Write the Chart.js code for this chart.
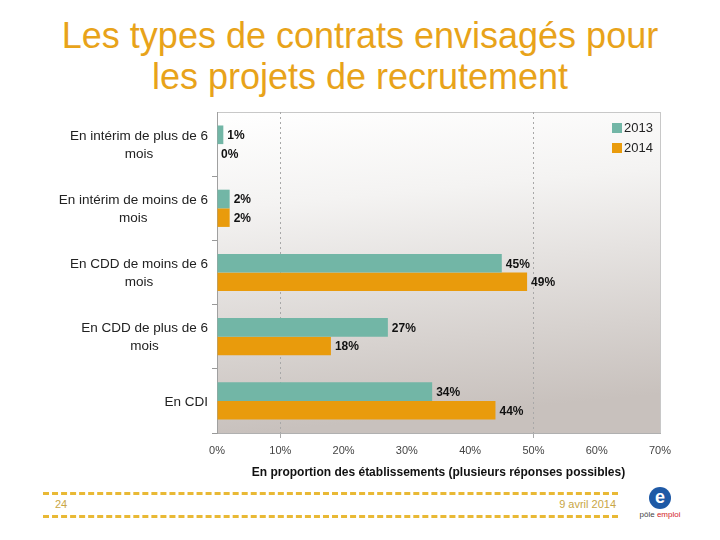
<!DOCTYPE html>
<html>
<head>
<meta charset="utf-8">
<script src="https://cdn.jsdelivr.net/npm/chart.js@4"></script>
<style>
    body { margin: 0; width: 720px; height: 540px; background: #fff; position: relative; overflow: hidden; font-family: "Liberation Sans", Arial, sans-serif; }
    #title { position: absolute; left: 0; top: 15px; width: 720px; text-align: center; color: #e8a31a; font-size: 36px; line-height: 41px; }
    #box { position: absolute; left: 0; top: 100px; width: 720px; height: 385px; }
    .dash { position: absolute; left: 43px; width: 575px; height: 0; border-top: 3px dashed #e9b935; }
    .foot { position: absolute; top: 498px; font-size: 11px; color: #c9a645; }
    #logo { position: absolute; left: 630px; top: 487px; width: 60px; text-align: center; white-space: nowrap; }
    #logo .e { width: 22px; height: 22px; border-radius: 11px; background: #1f5aa6; color: #fff; font: bold 18px/20px "Liberation Sans", Arial; margin: 0 auto; }
    #logo .t { font-size: 8px; color: #444; margin-top: 1px; }
</style>
</head>
<body>
<div id="title">Les types de contrats envisagés pour<br>les projets de recrutement</div>
<div id="box"><canvas id="contratsChart"></canvas></div>
<div class="dash" style="top:492px"></div>
<div class="dash" style="top:515px"></div>
<div class="foot" style="left:55px">24</div>
<div class="foot" style="left:520px;width:96px;text-align:right">9 avril 2014</div>
<div id="logo"><div class="e">e</div><div class="t">pôle <span style="color:#d2232a">emploi</span></div></div>

<script>
    // Data
    var categories = [
        ["En intérim de plus de 6", "mois"],
        ["En intérim de moins de 6", "mois"],
        ["En CDD de moins de 6", "mois"],
        ["En CDD de plus de 6", "mois"],
        ["En CDI"]
    ];
    var values2013 = [1, 2, 45, 27, 34];
    var values2014 = [0, 2, 49, 18, 44];
    var seriesNames = ["2013", "2014"];
    var xTicks = [0, 10, 20, 30, 40, 50, 60, 70];

    var teal = "#72b6a6";
    var orange = "#e99b0c";
    var fontFamily = "'Liberation Sans', Arial, sans-serif";

    // Plot background with gradient and frame
    var plotBackground = {
        id: "plotBackground",
        beforeDraw: function (chart) {
            var a = chart.chartArea, ctx = chart.ctx;
            var g = ctx.createLinearGradient(a.left, a.top, a.left + 30, a.bottom);
            g.addColorStop(0, "#ffffff");
            g.addColorStop(0.3, "#f4f3f2");
            g.addColorStop(1, "#c8c1bd");
            ctx.save();
            ctx.fillStyle = g;
            ctx.fillRect(a.left, a.top, a.right - a.left, a.bottom - a.top);
            ctx.strokeStyle = "#c8c8c8";
            ctx.lineWidth = 1;
            ctx.strokeRect(a.left + 0.5, a.top + 0.5, a.right - a.left, a.bottom - a.top);
            ctx.restore();
        }
    };

    // Category labels: first line right-aligned, following lines centred under it
    var categoryLabels = {
        id: "categoryLabels",
        afterDraw: function (chart) {
            var scale = chart.scales.y, ctx = chart.ctx;
            var lineH = 18;
            ctx.save();
            ctx.font = "13.5px " + fontFamily;
            ctx.fillStyle = "#222";
            ctx.textAlign = "center";
            ctx.textBaseline = "middle";
            chart.data.labels.forEach(function (lines, i) {
                var yc = scale.getPixelForTick(i) + 1;
                var w = ctx.measureText(lines[0]).width;
                var cx = scale.right - 9 - w / 2;
                var y0 = yc - (lines.length - 1) * lineH / 2;
                lines.forEach(function (t, k) {
                    ctx.fillText(t, cx, y0 + k * lineH);
                });
            });
            ctx.restore();
        }
    };

    // Value labels at the end of each bar
    var valueLabels = {
        id: "valueLabels",
        afterDatasetsDraw: function (chart) {
            var ctx = chart.ctx;
            ctx.save();
            ctx.font = "bold 12px " + fontFamily;
            ctx.fillStyle = "#111";
            ctx.textBaseline = "middle";
            chart.data.datasets.forEach(function (ds, i) {
                chart.getDatasetMeta(i).data.forEach(function (bar, j) {
                    ctx.fillText(ds.data[j] + "%", bar.x + 4, bar.y + 1);
                });
            });
            ctx.restore();
        }
    };

    // Legend inside the plot, top right
    var innerLegend = {
        id: "innerLegend",
        afterDraw: function (chart) {
            var a = chart.chartArea, ctx = chart.ctx;
            ctx.save();
            ctx.font = "13px " + fontFamily;
            ctx.textBaseline = "middle";
            chart.data.datasets.forEach(function (ds, i) {
                var y = a.top + 16 + i * 20;
                ctx.fillStyle = ds.backgroundColor;
                ctx.fillRect(a.right - 48, y - 5, 10, 10);
                ctx.fillStyle = "#222";
                ctx.fillText(ds.label, a.right - 36, y);
            });
            ctx.restore();
        }
    };

    var ctx1 = document.getElementById("contratsChart").getContext("2d");
    var myChart1 = new Chart(ctx1, {
        type: "bar",
        data: {
            labels: categories,
            datasets: [
                { label: seriesNames[0], data: values2013, backgroundColor: teal },
                { label: seriesNames[1], data: values2014, backgroundColor: orange }
            ]
        },
        options: {
            indexAxis: "y",
            responsive: true,
            maintainAspectRatio: false,
            animation: false,
            layout: { padding: { left: 45, right: 60, top: 12, bottom: 5 } },
            datasets: { bar: { categoryPercentage: 0.58, barPercentage: 1 } },
            plugins: {
                legend: { display: false },
                tooltip: { enabled: false }
            },
            scales: {
                x: {
                    min: 0,
                    max: 70,
                    afterBuildTicks: function (axis) {
                        axis.ticks = xTicks.map(function (v) { return { value: v }; });
                    },
                    grid: {
                        color: function (c) { return (c.tick && (c.tick.value === 10 || c.tick.value === 50)) ? "#a8a8a8" : "rgba(0,0,0,0)"; },
                        tickColor: function (c) { return (c.tick && (c.tick.value === 10 || c.tick.value === 50)) ? "#a8a8a8" : "rgba(0,0,0,0)"; },
                        tickLength: 5
                    },
                    border: { display: true, color: "#b0b0b0", dash: [2, 3] },
                    ticks: {
                        padding: 6,
                        color: "#444",
                        font: { family: fontFamily, size: 11 },
                        callback: function (v) { return v + "%"; }
                    },
                    title: {
                        display: true,
                        text: "En proportion des établissements (plusieurs réponses possibles)",
                        color: "#111",
                        padding: { top: 2, bottom: 0 },
                        font: { family: fontFamily, size: 12, weight: "bold" }
                    },
                    afterFit: function (axis) { axis.height = 47; }
                },
                y: {
                    grid: {
                        color: "rgba(0,0,0,0)",
                        tickColor: function (c) { return c.index === 0 ? "rgba(0,0,0,0)" : "#999"; },
                        tickLength: 5,
                        offset: true
                    },
                    border: { display: true, color: "#a0a0a0" },
                    ticks: { display: false },
                    afterFit: function (axis) { axis.width = 172; }
                }
            }
        },
        plugins: [plotBackground, categoryLabels, valueLabels, innerLegend]
    });
</script>
</body>
</html>
